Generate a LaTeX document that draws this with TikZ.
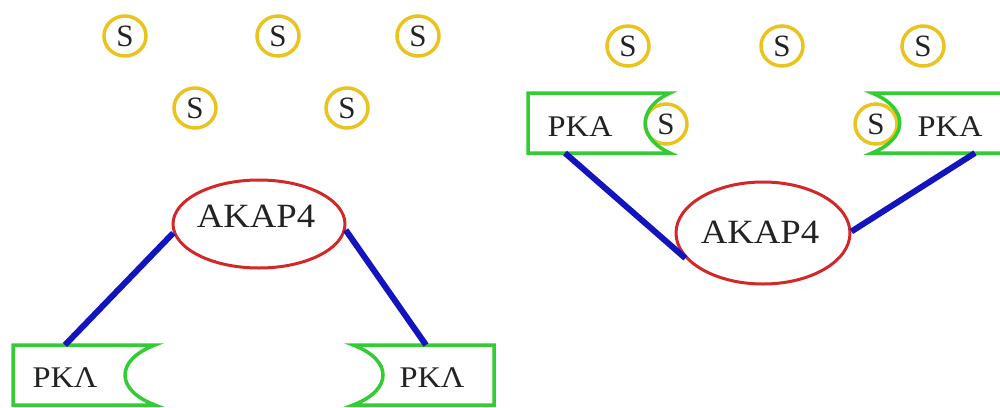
\documentclass[tikz,border=0pt]{standalone}
\usepackage{fontspec}
\setmainfont{Liberation Serif}
\newfontfamily\widefont[FakeStretch=1.08]{Liberation Serif}
\usetikzlibrary{shapes.geometric}
\definecolor{pkagreen}{RGB}{50,205,50}
\definecolor{linkblue}{RGB}{20,20,190}
\definecolor{akapred}{RGB}{210,40,40}
\definecolor{subyellow}{RGB}{235,195,30}
\definecolor{inkgray}{RGB}{35,35,35}
\begin{document}
\begin{tikzpicture}[x=1pt,y=-1pt,
  sub/.style={ellipse, draw=subyellow, line width=3.5pt, minimum width=42pt, minimum height=40pt, inner sep=0pt, text=inkgray, font=\fontsize{31}{31}\selectfont},
  akap/.style={ellipse, draw=akapred, line width=3pt, inner sep=0pt},
  pkabox/.style={draw=pkagreen, line width=3.5pt, line join=miter},
  pkatext/.style={font=\widefont\fontsize{30}{30}\selectfont, text=inkgray, inner sep=0pt},
  akaptext/.style={font=\widefont\fontsize{34}{34}\selectfont, text=inkgray, inner sep=0pt},
  link/.style={draw=linkblue, line width=6pt}]
\useasboundingbox[fill=white] (0,0) rectangle (1000,407);

% free substrate, left panel
\node[sub] (s1) at (125,36) {S};
\node[sub] (s2) at (278,36) {S};
\node[sub] (s3) at (418,36) {S};
\node[sub] (s4) at (195,108) {S};
\node[sub] (s5) at (347,108) {S};
% free substrate, right panel
\node[sub] (s6) at (628,46) {S};
\node[sub] (s7) at (782,46) {S};
\node[sub] (s8) at (923,46) {S};
% bound substrate
\node[sub] (sb1) at (666,124) {S};
\node[sub] (sb2) at (876,124) {S};

% AKAP4 ellipses
\node[akap, minimum width=172pt, minimum height=88pt] (e1) at (259,224) {};
\node[akaptext] (a1) at (256,216) {AKAP4};
\node[akap, minimum width=174pt, minimum height=102pt] (e2) at (763,233) {};
\node[akaptext] (a2) at (760,232) {AKAP4};

% PKA boxes, left panel (bottom)
\draw[pkabox] (13,345) -- (155,345) .. controls (115,360) and (115,390) .. (155,405) -- (13,405) -- cycle;
\node[pkatext] (p1) at (65,378) {PKΛ};
\draw[pkabox] (494,345) -- (353,345) .. controls (393,360) and (393,390) .. (353,405) -- (494,405) -- cycle;
\node[pkatext] (p2) at (432,378) {PKΛ};
% PKA boxes, right panel (top)
\draw[pkabox] (528,93) -- (670,93) .. controls (637,108) and (637,138) .. (670,153) -- (528,153) -- cycle;
\node[pkatext] (p3) at (580,127) {PKA};
\draw[pkabox] (1001,93) -- (872,93) .. controls (909,108) and (909,138) .. (872,153) -- (1001,153);
\node[pkatext] (p4) at (950,127) {PKA};

% attachment points on PKA boxes
\coordinate (b1) at (65,345);
\coordinate (b2) at (426,345);
\coordinate (b3) at (565,153);
\coordinate (b4) at (975,153);

% links
\draw[link] (e1.186) -- (b1);
\draw[link] (e1.356) -- (b2);
\draw[link] (e2.198) -- (b3);
\draw[link] (e2.1) -- (b4);
\end{tikzpicture}
\end{document}
